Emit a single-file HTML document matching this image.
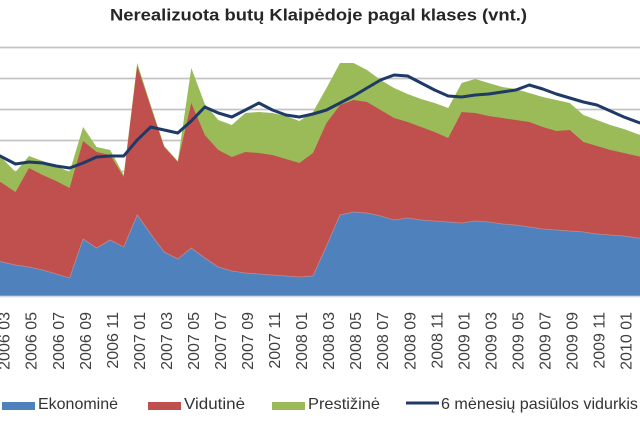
<!DOCTYPE html>
<html>
<head>
<meta charset="utf-8">
<style>
  html, body { margin: 0; padding: 0; background: #ffffff; }
  svg { display: block; }
  text { font-family: "Liberation Sans", "DejaVu Sans", sans-serif; }
</style>
</head>
<body>
<svg width="640" height="422" viewBox="0 0 640 422" xmlns="http://www.w3.org/2000/svg">
  <rect x="0" y="0" width="640" height="422" fill="#ffffff"/>

  <!-- Title -->
  <text x="110" y="20.5" font-size="17" font-weight="bold" fill="#262626" textLength="417" lengthAdjust="spacingAndGlyphs">Nerealizuota butų Klaipėdoje pagal klases (vnt.)</text>

  <!-- Gridlines -->
  <g stroke="#c4c4c4" stroke-width="1.8">
    <line x1="0" y1="47.5" x2="640" y2="47.5"/>
    <line x1="0" y1="78.5" x2="640" y2="78.5"/>
    <line x1="0" y1="109.5" x2="640" y2="109.5"/>
    <line x1="0" y1="140.5" x2="640" y2="140.5"/>
    <line x1="0" y1="171.5" x2="640" y2="171.5"/>
    <line x1="0" y1="202.5" x2="640" y2="202.5"/>
    <line x1="0" y1="233.5" x2="640" y2="233.5"/>
    <line x1="0" y1="264.5" x2="640" y2="264.5"/>
  </g>

  <!-- Prestižinė (green, total top) -->
  <polygon fill="#9bbb59" points="-11.5,146 2,158 15.5,172 29,156 42.6,161 56.1,166 69.6,172 83.1,127 96.6,147 110.2,150 123.7,175 137.2,63 150.7,105 164.2,146 177.8,161 191.3,68 204.8,104 218.3,120 231.8,125 245.4,113 258.9,112 272.4,113 285.9,116 299.4,121 313,112 326.5,88 340,63 353.5,63 367,70 380.6,80 394.1,88 407.6,94 421.1,99 434.6,103 448.2,108 461.7,83 475.2,79 488.7,83 502.2,87 515.8,89 529.3,93 542.8,97 556.3,100 569.8,103 583.4,115 596.9,120 610.4,125 623.9,129 637.4,134 651,138 651,296 -11.5,296"/>

  <!-- Vidutinė (red) -->
  <polygon fill="#c0504d" points="-11.5,175 2,183 15.5,192 29,168 42.6,175 56.1,181 69.6,188 83.1,141 96.6,152 110.2,155 123.7,177 137.2,66 150.7,107 164.2,147 177.8,162 191.3,103 204.8,135 218.3,150 231.8,157 245.4,152 258.9,153 272.4,155 285.9,159 299.4,163 313,153 326.5,123 340,105 353.5,100 367,102 380.6,110 394.1,118 407.6,122 421.1,127 434.6,132 448.2,138 461.7,112 475.2,113 488.7,116 502.2,118 515.8,120 529.3,122 542.8,127 556.3,131 569.8,130 583.4,142 596.9,146 610.4,150 623.9,153 637.4,156 651,159 651,296 -11.5,296"/>

  <!-- Ekonominė (blue) -->
  <polygon fill="#4f81bd" stroke="#d9a3a3" stroke-width="0.8" stroke-opacity="0.6" points="-11.5,258 2,262 15.5,265 29,267 42.6,270 56.1,274 69.6,278 83.1,239 96.6,248 110.2,240 123.7,247 137.2,215 150.7,234 164.2,252 177.8,259 191.3,248 204.8,258 218.3,267 231.8,271 245.4,273 258.9,274 272.4,275 285.9,276 299.4,277 313,276 326.5,246 340,215 353.5,212 367,213 380.6,216 394.1,220 407.6,218 421.1,220 434.6,221 448.2,222 461.7,223 475.2,221 488.7,222 502.2,224 515.8,225 529.3,227 542.8,229 556.3,230 569.8,231 583.4,232 596.9,234 610.4,235 623.9,236 637.4,238 651,239 651,296 -11.5,296"/>

  <!-- Axis line -->
  <line x1="0" y1="296.5" x2="640" y2="296.5" stroke="#d0d8e4" stroke-width="1.5"/>

  <!-- 6 mėnesių pasiūlos vidurkis (line) -->
  <polyline fill="none" stroke="#1f3a66" stroke-width="3" stroke-linejoin="round" stroke-linecap="round" points="-11.5,150 2,157 15.5,164 29,162 42.6,163 56.1,166 69.6,168 83.1,163 96.6,157 110.2,156 123.7,156 137.2,140 150.7,127 164.2,130 177.8,133 191.3,121 204.8,107 218.3,113 231.8,117 245.4,110 258.9,103 272.4,110 285.9,115 299.4,117 313,114 326.5,110 340,103 353.5,96 367,88 380.6,80 394.1,75 407.6,76 421.1,83 434.6,90 448.2,96 461.7,97 475.2,95 488.7,94 502.2,92 515.8,90 529.3,85 542.8,89 556.3,94 569.8,98 583.4,102 596.9,105 610.4,111 623.9,117 637.4,122 651,127"/>

  <!-- X axis labels -->
  <g font-size="16" fill="#404040" text-anchor="end">
    <text transform="translate(9.7,312) rotate(-90)">2006 03</text>
    <text transform="translate(36.7,312) rotate(-90)">2006 05</text>
    <text transform="translate(63.8,312) rotate(-90)">2006 07</text>
    <text transform="translate(90.8,312) rotate(-90)">2006 09</text>
    <text transform="translate(117.9,312) rotate(-90)">2006 11</text>
    <text transform="translate(144.9,312) rotate(-90)">2007 01</text>
    <text transform="translate(171.9,312) rotate(-90)">2007 03</text>
    <text transform="translate(199,312) rotate(-90)">2007 05</text>
    <text transform="translate(226,312) rotate(-90)">2007 07</text>
    <text transform="translate(253,312) rotate(-90)">2007 09</text>
    <text transform="translate(280.1,312) rotate(-90)">2007 11</text>
    <text transform="translate(307.1,312) rotate(-90)">2008 01</text>
    <text transform="translate(334.2,312) rotate(-90)">2008 03</text>
    <text transform="translate(361.2,312) rotate(-90)">2008 05</text>
    <text transform="translate(388.2,312) rotate(-90)">2008 07</text>
    <text transform="translate(415.3,312) rotate(-90)">2008 09</text>
    <text transform="translate(442.3,312) rotate(-90)">2008 11</text>
    <text transform="translate(469.4,312) rotate(-90)">2009 01</text>
    <text transform="translate(496.4,312) rotate(-90)">2009 03</text>
    <text transform="translate(523.4,312) rotate(-90)">2009 05</text>
    <text transform="translate(550.5,312) rotate(-90)">2009 07</text>
    <text transform="translate(577.5,312) rotate(-90)">2009 09</text>
    <text transform="translate(604.6,312) rotate(-90)">2009 11</text>
    <text transform="translate(631.6,312) rotate(-90)">2010 01</text>
  </g>

  <!-- Legend -->
  <rect x="2" y="402" width="33" height="8" fill="#4f81bd"/>
  <text x="38" y="409" font-size="16" fill="#333333" textLength="80" lengthAdjust="spacingAndGlyphs">Ekonominė</text>

  <rect x="148" y="402" width="33" height="8" fill="#c0504d"/>
  <text x="184" y="409" font-size="16" fill="#333333" textLength="61" lengthAdjust="spacingAndGlyphs">Vidutinė</text>

  <rect x="272" y="402" width="33" height="8" fill="#9bbb59"/>
  <text x="308" y="409" font-size="16" fill="#333333" textLength="72" lengthAdjust="spacingAndGlyphs">Prestižinė</text>

  <line x1="406" y1="403" x2="439" y2="403" stroke="#1f3a66" stroke-width="3"/>
  <text x="441" y="409" font-size="16" fill="#333333" textLength="197" lengthAdjust="spacingAndGlyphs">6 mėnesių pasiūlos vidurkis</text>
</svg>
</body>
</html>
